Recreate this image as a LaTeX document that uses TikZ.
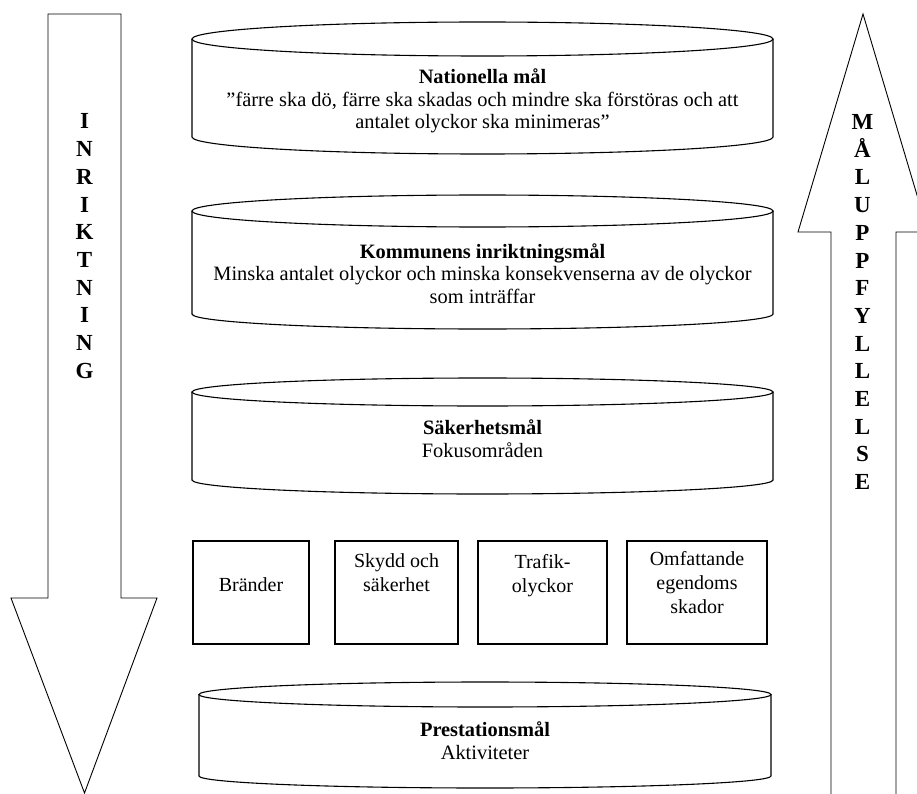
\documentclass[tikz,border=0pt]{standalone}
\usepackage{fontspec}
\setmainfont{Liberation Serif}
\usetikzlibrary{positioning}

\tikzset{
  cantext/.style={align=center, inner sep=0pt, font=\fontsize{20.4}{22.6}\selectfont},
  goalbox/.style={draw, line width=1.1pt, inner sep=0pt},
  boxtext/.style={align=center, inner sep=0pt, font=\fontsize{20}{24}\selectfont},
  arrowletter/.style={inner sep=0pt, font=\fontsize{23}{27.7}\selectfont\bfseries},
  bigarrow/.style={line width=0.9pt, line join=miter},
  can/.style={line width=1.1pt}
}

\begin{document}
\begin{tikzpicture}[x=1pt,y=1pt]
    \clip (0,0) rectangle (917,-794);
    \fill[white] (0,0) rectangle (917,-794);
    % pilar
    \draw [bigarrow] (48,-14) -- (121,-14) -- (121,-598) -- (157,-598) -- (84.5,-793) -- (11,-598) -- (48,-598) -- cycle;
    \draw [bigarrow] (831,-800) -- (831,-232) -- (798,-232) -- (863,-14) -- (928,-232) -- (896,-232) -- (896,-800);
    \foreach \ch [count=\i] in {I,N,R,I,K,T,N,I,N,G}
        \node [arrowletter, anchor=base] (inr-\i) at (84.5,-129-27.7*\i+27.7) {\ch};
    \foreach \ch [count=\i] in {M,Å,L,U,P,P,F,Y,L,L,E,L,S,E}
        \node [arrowletter, anchor=base] (mal-\i) at (862.5,-129.5-27.7*\i+27.7) {\ch};
    % cylindrar
    \draw [can] (482.5,-39) ellipse (290.5 and 17);
    \draw [can] (192,-39) -- (192,-137) arc[start angle=180, end angle=360, x radius=290.5, y radius=17] -- (773,-39);
    \draw [can] (482.5,-211) ellipse (290.5 and 16);
    \draw [can] (192,-211) -- (192,-314) arc[start angle=180, end angle=360, x radius=290.5, y radius=15] -- (773,-211);
    \draw [can] (482.5,-392) ellipse (290.5 and 14);
    \draw [can] (192,-392) -- (192,-480) arc[start angle=180, end angle=360, x radius=290.5, y radius=14] -- (773,-392);
    \draw [can] (485,-694.5) ellipse (286 and 12.5);
    \draw [can] (199,-694.5) -- (199,-776) arc[start angle=180, end angle=360, x radius=286, y radius=12] -- (771,-694.5);
    \node [cantext] (nationella) at (482.5,-101) {\textbf{Nationella mål}\\”färre ska dö, färre ska skadas och mindre ska förstöras och att\\antalet olyckor ska minimeras”};
    \node [cantext] (kommunens) at (482.5,-273.5) {\textbf{Kommunens inriktningsmål}\\Minska antalet olyckor och minska konsekvenserna av de olyckor\\som inträffar};
    \node [cantext] (sakerhet) at (482.5,-439) {\textbf{Säkerhetsmål}\\Fokusområden};
    \node [cantext] (prestation) at (485,-740.5) {\textbf{Prestationsmål}\\Aktiviteter};
    % fokusområden
    \node [goalbox, minimum width=116pt, minimum height=103pt] (brander) at (251,-592.5) {};
    \node [goalbox, minimum width=123pt, minimum height=103pt] (skydd) at (396.5,-592.5) {};
    \node [goalbox, minimum width=129pt, minimum height=103pt] (trafik) at (542.5,-592.5) {};
    \node [goalbox, minimum width=140pt, minimum height=103pt] (egendom) at (697,-592.5) {};
    \node [boxtext, below=37.3pt of brander.north] (brander-t) {Bränder};
    \node [boxtext, below=13.3pt of skydd.north] (skydd-t) {Skydd och\\säkerhet};
    \node [boxtext, below=13.3pt of trafik.north] (trafik-t) {Trafik-\\olyckor};
    \node [boxtext, below=11pt of egendom.north] (egendom-t) {Omfattande\\egendoms\\skador};
\end{tikzpicture}
\end{document}
